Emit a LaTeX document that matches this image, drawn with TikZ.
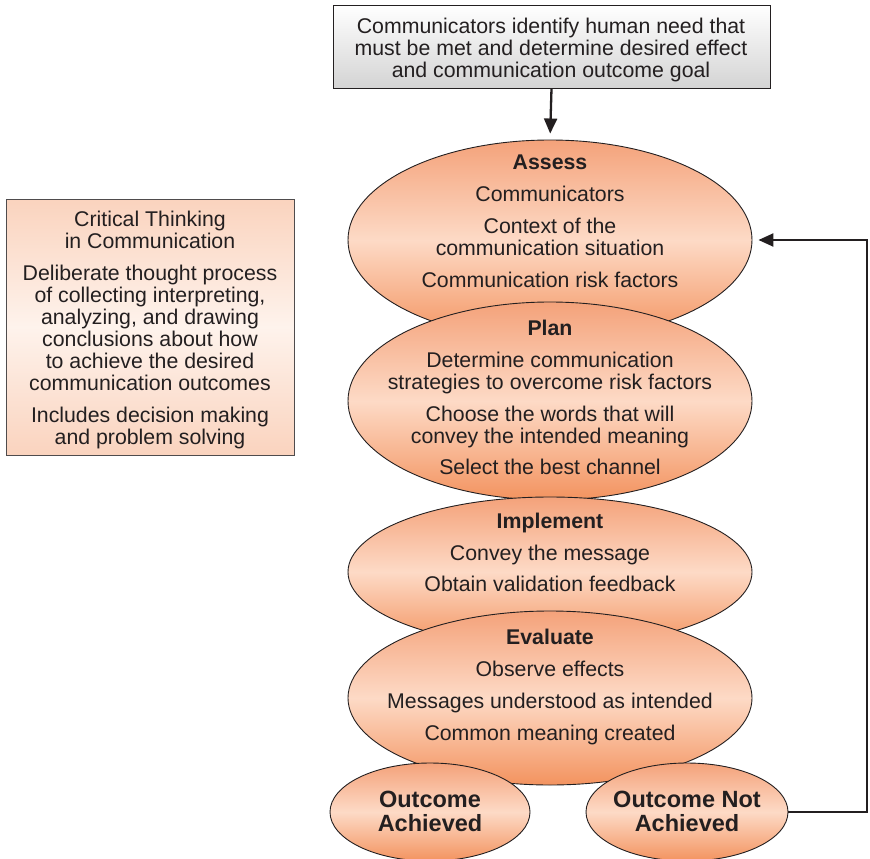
\documentclass[tikz,border=0pt]{standalone}
\usepackage{fontspec}
\setmainfont{Liberation Sans}
\usetikzlibrary{shapes.geometric,arrows.meta}
\definecolor{edgeOrange}{HTML}{F3935F}
\definecolor{topOrange}{HTML}{F4A27A}
\definecolor{midPeach}{HTML}{FDDAC6}
\definecolor{boxPeach}{HTML}{FAD3BE}
\definecolor{boxLight}{HTML}{FEF3EC}
\definecolor{inkGray}{HTML}{231F20}
\tikzset{
  stage/.style={ellipse, draw=inkGray, line width=0.9pt, inner sep=0pt,
    shading=axis, top color=topOrange, bottom color=edgeOrange, middle color=midPeach},
  stagetext/.style={anchor=north, align=center, text=inkGray, inner sep=0pt,
    font=\fontsize{21.3}{22}\selectfont},
  outcometext/.style={align=center, text=inkGray, inner sep=0pt,
    font=\fontsize{23.5}{24}\selectfont\bfseries},
  goalbox/.style={draw=inkGray, line width=0.9pt, inner sep=0pt,
    shading=axis, top color=white, bottom color=black!17},
  notebox/.style={draw=inkGray!80, line width=0.9pt, inner sep=0pt,
    shading=axis, top color=boxPeach, bottom color=boxPeach, middle color=boxLight},
  flow/.style={draw=inkGray, line width=2.3pt, shorten >=6pt,
    -{Triangle[length=15pt,width=13pt]}}
}
\begin{document}
\begin{tikzpicture}[x=1pt,y=-1pt]
\useasboundingbox (0,0) rectangle (870,859);

% goal statement at the top
\node[goalbox, minimum width=437pt, minimum height=83pt] (goal) at (551.5,46.5) {};
\node[stagetext] (goaltxt) at (551,18)
  {Communicators identify human need that\\must be met and determine desired effect\\and communication outcome goal};

% the four stages, each one overlapping the one above
\node[stage, minimum width=404pt, minimum height=200pt] (assess) at (550,240) {};
\node[stage, minimum width=404pt, minimum height=198pt] (plan) at (550,401) {};
\node[stage, minimum width=404pt, minimum height=150pt] (implement) at (550,572) {};
\node[stage, minimum width=404pt, minimum height=174pt] (evaluate) at (550,698) {};

\node[stagetext] (assesstxt) at (550,155)
  {\textbf{Assess}\\[10pt]Communicators\\[10pt]Context of the\\communication situation\\[10pt]Communication risk factors};
\node[stagetext] (plantxt) at (550,320)
  {\textbf{Plan}\\[10pt]Determine communication\\strategies to overcome risk factors\\[10pt]Choose the words that will\\convey the intended meaning\\[9pt]Select the best channel};
\node[stagetext] (implementtxt) at (550,513)
  {\textbf{Implement}\\[10pt]Convey the message\\[9pt]Obtain validation feedback};
\node[stagetext] (evaluatetxt) at (550,629)
  {\textbf{Evaluate}\\[10pt]Observe effects\\[10pt]Messages understood as intended\\[10pt]Common meaning created};

% outcomes
\node[stage, minimum width=200pt, minimum height=98pt] (achieved) at (430,812) {};
\node[stage, minimum width=202pt, minimum height=98pt] (notachieved) at (687,812) {};
\node[outcometext] (achievedtxt) at (430,811) {Outcome\\Achieved};
\node[outcometext] (notachievedtxt) at (687,811) {Outcome Not\\Achieved};

% side note
\node[notebox, minimum width=288pt, minimum height=256pt] (note) at (150,327) {};
\node[stagetext] (notetxt) at (150,211)
  {Critical Thinking\\in Communication\\[10pt]Deliberate thought process\\of collecting interpreting,\\analyzing, and drawing\\conclusions about how\\to achieve the desired\\communication outcomes\\[10pt]Includes decision making\\and problem solving};

% connectors
\draw[flow] (goal.south) -- (assess.north);
\coordinate (loopturn) at (867,812);
\draw[flow] (notachieved.east) -- (loopturn) |- (assess.east);
\end{tikzpicture}
\end{document}
